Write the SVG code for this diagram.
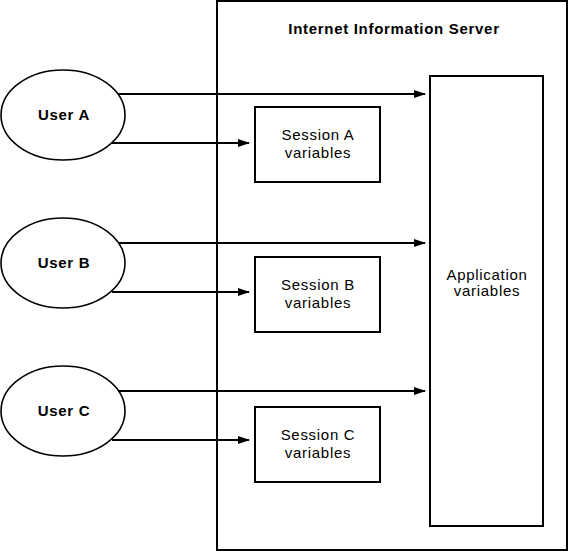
<svg xmlns="http://www.w3.org/2000/svg" width="569" height="552" viewBox="0 0 569 552">
<style>
.box{fill:#fff;stroke:#000;stroke-width:2}
.user{fill:#fff;stroke:#000;stroke-width:1.6}
.t{font-family:"Liberation Sans",Arial,sans-serif;font-size:15px;letter-spacing:0.7px;fill:#000;text-anchor:middle}
.b{font-weight:bold}
.c{stroke:#000;stroke-width:2;fill:none;marker-end:url(#ah)}
</style>
<defs>
<marker id="ah" markerWidth="12" markerHeight="8" refX="11" refY="4" orient="auto" markerUnits="userSpaceOnUse">
<path d="M0,0 L12,4 L0,8 Z" fill="#000"/>
</marker>
</defs>
<g id="server">
<rect class="box" x="217" y="1" width="350" height="549"/>
<text class="t b" x="394" y="34">Internet Information Server</text>
</g>
<g id="application">
<rect class="box" x="430" y="76" width="113" height="450"/>
<text class="t" x="487" y="280">Application</text>
<text class="t" x="487" y="296">variables</text>
</g>
<g id="sessionA">
<rect class="box" x="255" y="107" width="125" height="75"/>
<text class="t" x="318" y="140">Session A</text>
<text class="t" x="318" y="158">variables</text>
</g>
<g id="sessionB">
<rect class="box" x="255" y="257" width="125" height="75"/>
<text class="t" x="318" y="290">Session B</text>
<text class="t" x="318" y="308">variables</text>
</g>
<g id="sessionC">
<rect class="box" x="255" y="407" width="125" height="75"/>
<text class="t" x="318" y="440">Session C</text>
<text class="t" x="318" y="458">variables</text>
</g>
<g id="userA">
<ellipse class="user" cx="63" cy="115" rx="62" ry="45"/>
<text class="t b" x="64" y="120">User A</text>
</g>
<g id="userB">
<ellipse class="user" cx="63" cy="263" rx="62" ry="45"/>
<text class="t b" x="64" y="268">User B</text>
</g>
<g id="userC">
<ellipse class="user" cx="63" cy="411" rx="62" ry="45"/>
<text class="t b" x="64" y="416">User C</text>
</g>
<g id="connectors">
<line class="c" x1="118" y1="94" x2="425" y2="94"/>
<line class="c" x1="112" y1="143" x2="249" y2="143"/>
<line class="c" x1="118" y1="243" x2="425" y2="243"/>
<line class="c" x1="112" y1="292" x2="249" y2="292"/>
<line class="c" x1="118" y1="391" x2="425" y2="391"/>
<line class="c" x1="112" y1="440" x2="249" y2="440"/>
</g>
</svg>
